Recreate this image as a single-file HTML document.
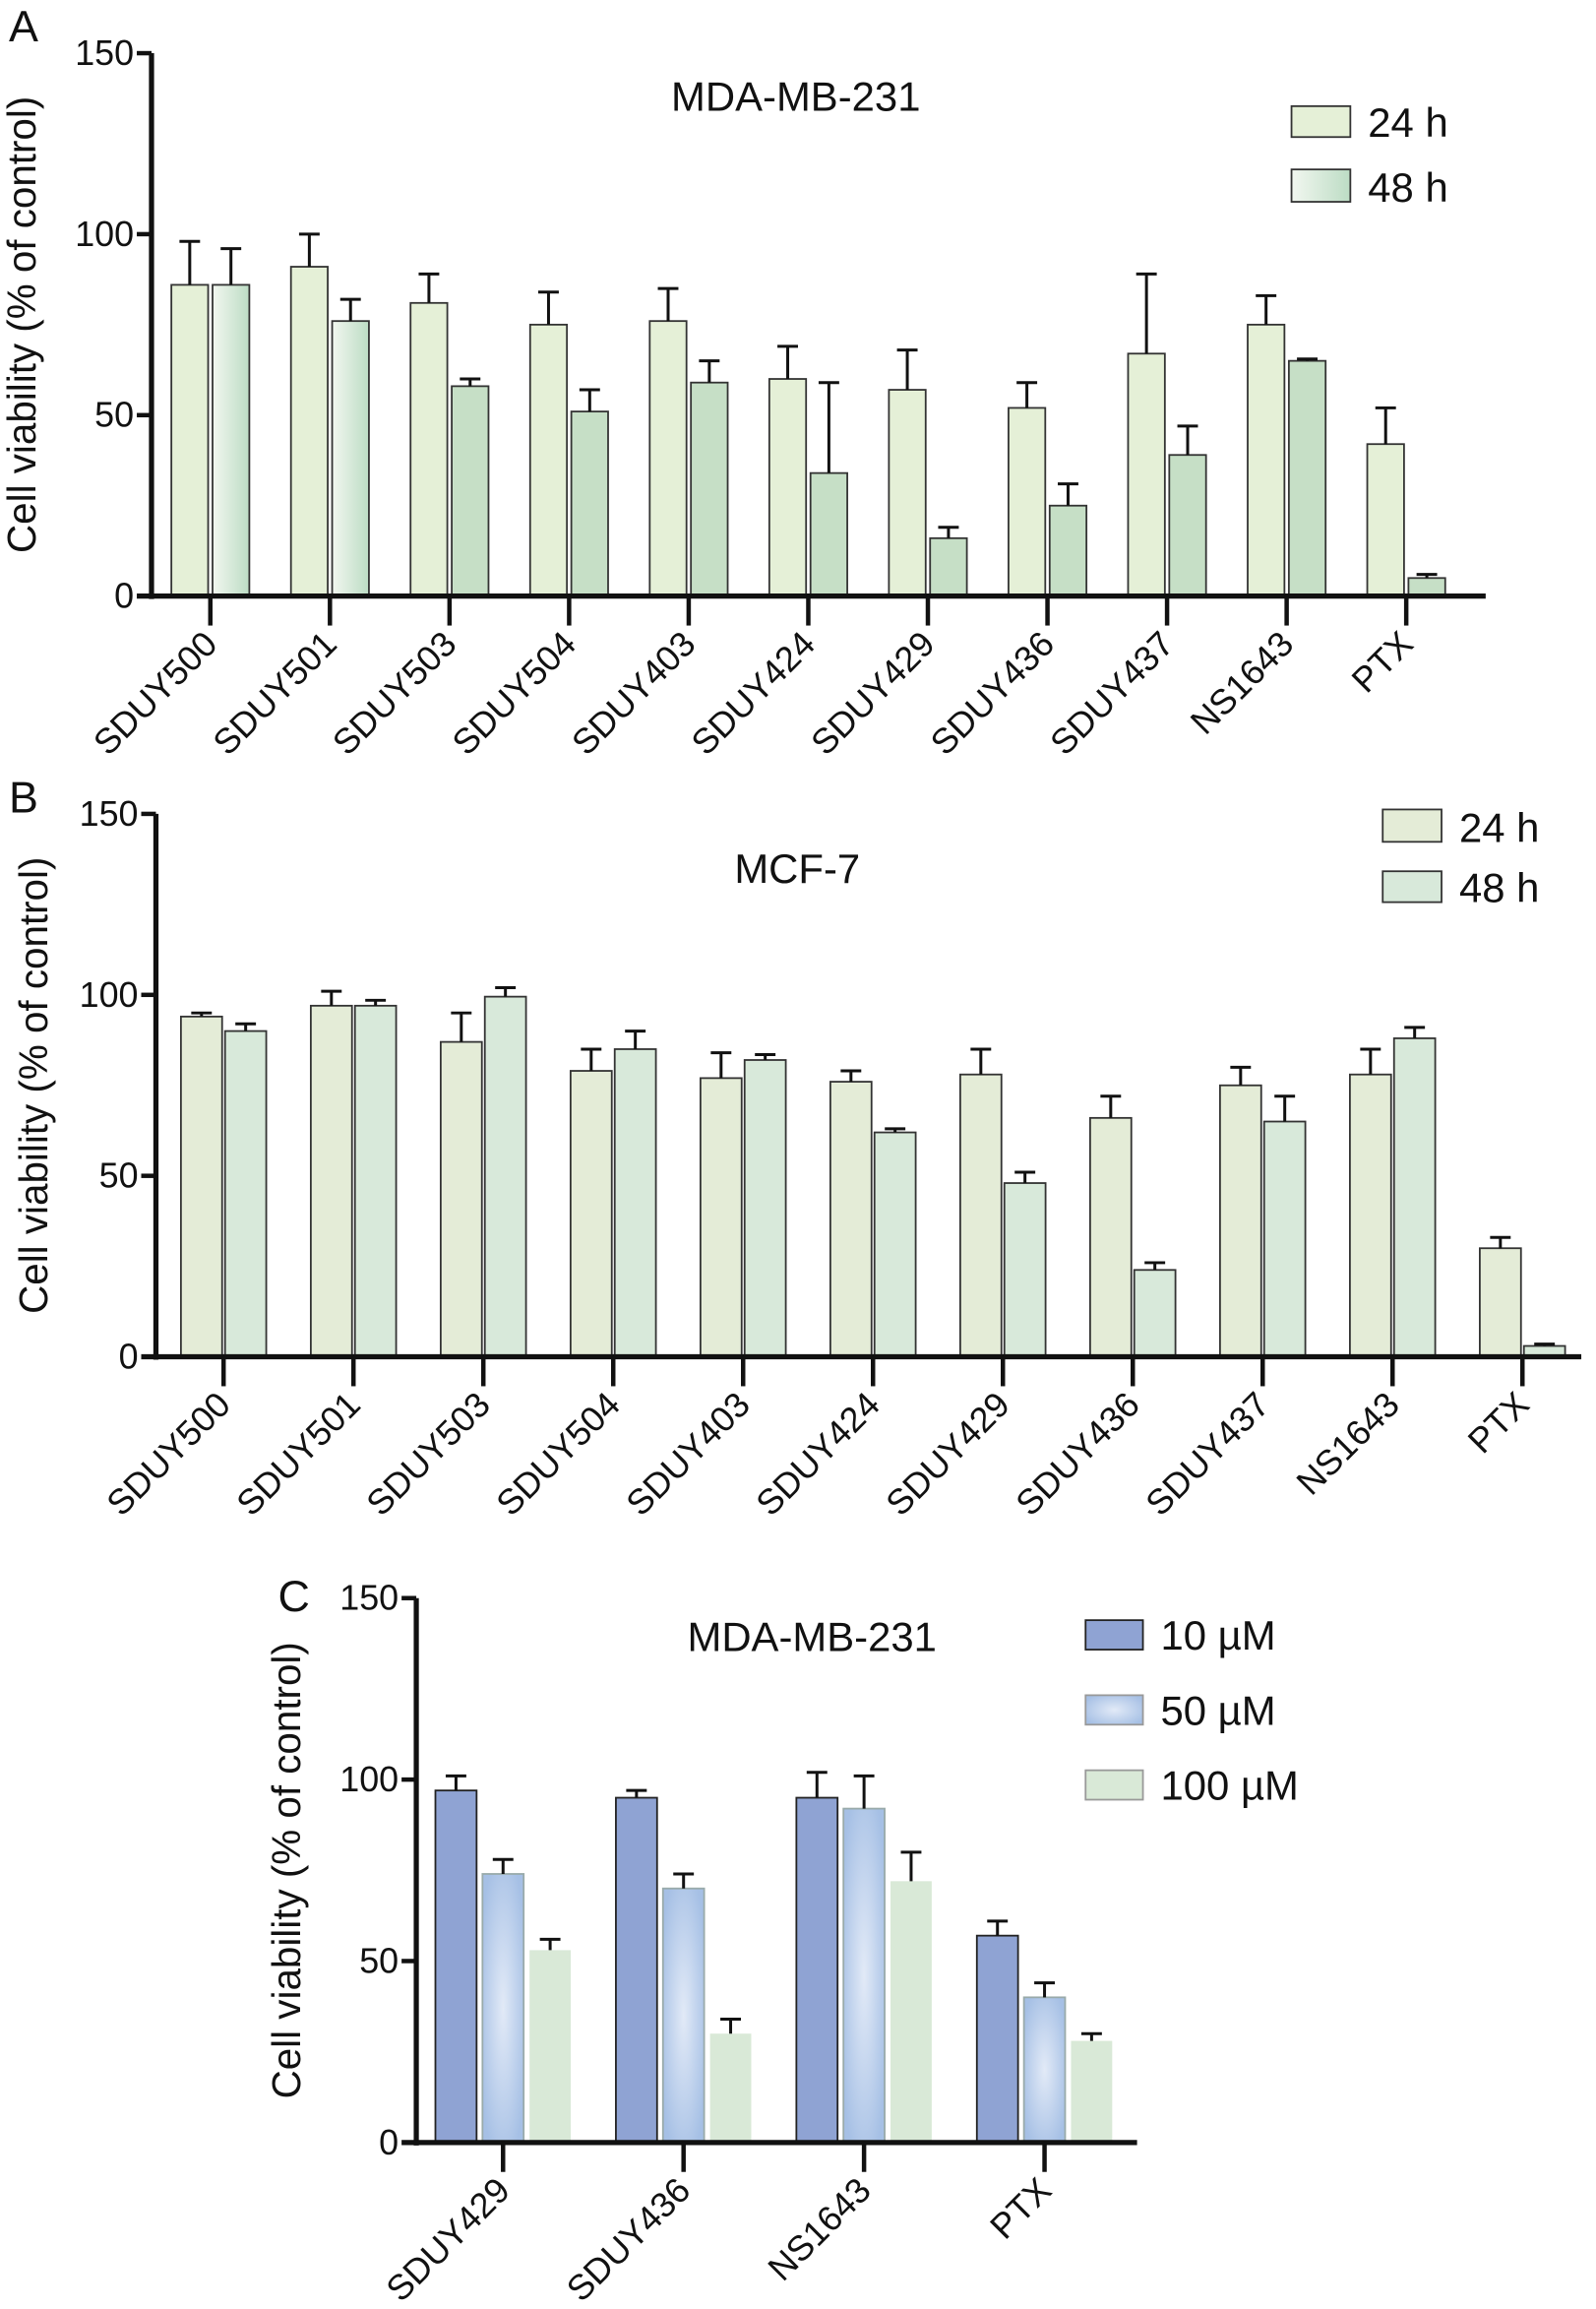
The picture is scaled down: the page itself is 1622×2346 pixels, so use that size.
<!DOCTYPE html>
<html><head><meta charset="utf-8">
<style>
html,body{margin:0;padding:0;background:#fff}
svg{display:block}
text{font-family:"Liberation Sans",sans-serif;fill:#111}
.tk{font-family:"Liberation Sans Narrow","Liberation Sans",sans-serif;font-size:24px}
</style></head>
<body>
<svg id="fig" width="1622" height="2346" viewBox="0 0 1085 1569" xmlns="http://www.w3.org/2000/svg">
<defs>
<linearGradient id="gA48" x1="0" x2="1" y1="0" y2="0"><stop offset="0" stop-color="#f2f7f0"/><stop offset="1" stop-color="#bcdcc4"/></linearGradient>
<radialGradient id="g50" cx="0.5" cy="0.5" r="0.6"><stop offset="0" stop-color="#e2eaf7"/><stop offset="1" stop-color="#a6c0e5"/></radialGradient>
</defs>
</svg>
<script>
const catsAB=["SDUY500","SDUY501","SDUY503","SDUY504","SDUY403","SDUY424","SDUY429","SDUY436","SDUY437","NS1643","PTX"];
const a24=[86,91,81,75,76,60,57,52,67,75,42];
const a24err=[98,100,89,84,85,69,68,59,89,83,52];
const a48=[86,76,58,51,59,34,16,25,39,65,5];
const a48err=[96,82,60,57,65,59,19,31,47,65.5,6];
const b24=[94,97,87,79,77,76,78,66,75,78,30];
const b24err=[95,101,95,85,84,79,85,72,80,85,33];
const b48=[90,97,99.5,85,82,62,48,24,65,88,3];
const b48err=[92,98.5,102,90,83.5,63,51,26,72,91,3.5];
const catsC=["SDUY429","SDUY436","NS1643","PTX"];
const c10=[97,95,95,57];
const c10err=[101,97,102,61];
const c50=[74,70,92,40];
const c50err=[78,74,101,44];
const c100=[53,30,72,28];
const c100err=[56,34,80,30];
const yTicks=[0,50,100,150];

const svg=document.getElementById('fig');
const NS="http://www.w3.org/2000/svg";
function el(tag,attrs,parent){const e=document.createElementNS(NS,tag);for(const k in attrs)e.setAttribute(k,attrs[k]);(parent||svg).appendChild(e);return e;}
function txt(s,attrs,parent){const e=el('text',attrs,parent);e.textContent=s;return e;}

function panel(cfg){
  const g=el('g',{});
  
  
  const y=v=>cfg.y0-(v/150)*(cfg.y0-cfg.y150);
  const x=i=>cfg.x0+i*cfg.step;
  cfg.series.forEach((s,si)=>{
    s.vals.forEach((v,i)=>{
      const cx=x(i)+s.off;
      const fill=typeof s.fill==='function'?s.fill(i):s.fill;
      const r=el('rect',{x:cx-cfg.bw/2,y:y(v),width:cfg.bw,height:y(0)-y(v),fill:fill,stroke:s.stroke,'stroke-width':1.2},g);
      
      
      const e=s.err[i];
      const eb=el('path',{d:`M${cx} ${y(v)}V${y(e)}M${cx-7} ${y(e)}H${cx+7}`,stroke:'#111','stroke-width':2,fill:'none'},g);
      
      
    });
  });
  const ya=el('path',{d:`M${cfg.ax} ${y(0)+2}V${y(150)}`,stroke:'#111','stroke-width':3.5,fill:'none'},g);
  
  
  const xa=el('path',{d:`M${cfg.ax-10} ${y(0)}H${cfg.xEnd}`,stroke:'#111','stroke-width':3.5,fill:'none'},g);
  
  
  yTicks.forEach(t=>{
    if(t>0) el('path',{d:`M${cfg.ax-10} ${y(t)}H${cfg.ax}`,stroke:'#111','stroke-width':3},g);
    const tl=txt(String(t),{x:cfg.ax-12,y:y(t)+8,'text-anchor':'end',class:'tk'},g);
    
    
  });
  cfg.cats.forEach((c,i)=>{
    const tx=x(i)+cfg.tickOff;
    el('path',{d:`M${tx} ${y(0)}V${y(0)+20}`,stroke:'#111','stroke-width':3},g);
    const lx=tx+6, ly=y(0)+34;
    const l=txt(c,{x:lx,y:ly,'text-anchor':'end','font-size':cfg.lfs,transform:`rotate(-45 ${lx} ${ly})`},g);
    
    
  });
  const yl=txt('Cell viability (% of control)',{x:cfg.ylx,y:(y(0)+y(150))/2,'text-anchor':'middle','font-size':27,transform:`rotate(-90 ${cfg.ylx} ${(y(0)+y(150))/2})`},g);
  
  
  const t=txt(cfg.title,{x:cfg.tx,y:cfg.ty,'text-anchor':'middle','font-size':28},g);
  
  
  const L=txt(cfg.letter,{x:cfg.lx,y:cfg.ly,'font-size':30},g);
  
  
  cfg.legend.forEach(le=>{
    const lg=el('g',{},g);
    
    
    el('rect',{x:le.x,y:le.y,width:le.w,height:le.h,fill:le.fill,stroke:le.stroke,'stroke-width':1.2},lg);
    txt(le.label,{x:le.x+le.w+12,y:le.y+le.h,'font-size':28},lg);
  });
}

panel({name:'panel-a-chart',cats:catsAB,x0:143,step:81.3,bw:25,y0:405,y150:36,ax:103,xEnd:1010,tickOff:0,lfs:24,ylx:24,
  title:'MDA-MB-231',tx:541,ty:75,letter:'A',lx:6,ly:28,
  series:[{key:'24h',vals:a24,err:a24err,off:-14,fill:'#e5f0d7',stroke:'#333'},
          {key:'48h',vals:a48,err:a48err,off:14,fill:i=>i<2?'url(#gA48)':'#c6dfc6',stroke:'#333'}],
  legend:[{x:878,y:72,w:40,h:21,fill:'#e5f0d7',stroke:'#333',label:'24 h'},{x:878,y:115,w:40,h:22,fill:'url(#gA48)',stroke:'#333',label:'48 h'}]});

panel({name:'panel-b-chart',cats:catsAB,x0:152,step:88.3,bw:28,y0:922,y150:553,ax:106,xEnd:1075,tickOff:0,lfs:24,ylx:32,
  title:'MCF-7',tx:542,ty:600,letter:'B',lx:6,ly:552,
  series:[{key:'24h',vals:b24,err:b24err,off:-15,fill:'#e4ecd7',stroke:'#333'},
          {key:'48h',vals:b48,err:b48err,off:15,fill:'#d8e9da',stroke:'#333'}],
  legend:[{x:940,y:550,w:40,h:22,fill:'#e4ecd7',stroke:'#333',label:'24 h'},{x:940,y:592,w:40,h:21,fill:'#d8e9da',stroke:'#333',label:'48 h'}]});

panel({name:'panel-c-chart',cats:catsC,x0:342,step:122.7,bw:28,y0:1456,y150:1086,ax:283,xEnd:773,tickOff:0,lfs:24,ylx:204,
  title:'MDA-MB-231',tx:552,ty:1122,letter:'C',lx:189,ly:1095,
  series:[{key:'10uM',vals:c10,err:c10err,off:-32,fill:'#8fa3d3',stroke:'#222'},
          {key:'50uM',vals:c50,err:c50err,off:0,fill:'url(#g50)',stroke:'#9aa'},
          {key:'100uM',vals:c100,err:c100err,off:32,fill:'#d9e9d7',stroke:'none'}],
  legend:[{x:738,y:1101,w:39,h:20,fill:'#8fa3d3',stroke:'#222',label:'10 µM'},{x:738,y:1152,w:39,h:20,fill:'url(#g50)',stroke:'#999',label:'50 µM'},{x:738,y:1203,w:39,h:20,fill:'#d9e9d7',stroke:'#999',label:'100 µM'}]});
</script>
</body></html>
